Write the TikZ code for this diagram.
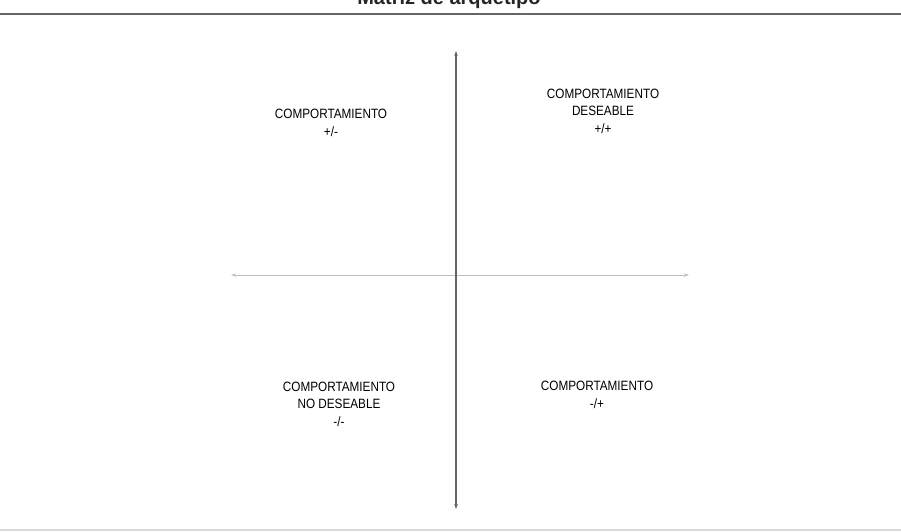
\documentclass[tikz,border=0pt]{standalone}
\usepackage{fontspec}
\setmainfont[FakeStretch=0.87]{Liberation Sans}
\newfontfamily\titulofont{Liberation Sans}
\usepackage{tikz}
\usetikzlibrary{positioning,arrows.meta}

\begin{document}
\begin{tikzpicture}[x=1pt, y=-1pt, >={Stealth[length=5pt,width=3.5pt]}]
  \tikzset{
    cuad/.style={align=center,inner sep=0pt,text=black,
                 font=\fontsize{13.5}{17.5}\selectfont},
    ejev/.style={<->,line width=1.1pt,draw=black!60},
    ejeh/.style={<->,line width=1pt,draw=black!25},
    regla/.style={line width=1.6pt,draw=black!60}
  }
  \useasboundingbox (0,0) rectangle (901,531);

  % Title (cut by the page edge) and rules
  \node[font=\titulofont\bfseries\fontsize{20}{20}\selectfont,text=black!85,
        anchor=base] (titulo) at (449,4) {Matriz de arquetipo};
  \draw[regla] (0,14) -- (901,14);
  \draw[line width=1.2pt,draw=black!15] (0,530) -- (901,530);

  % Axes
  \coordinate (arriba) at (456,51);
  \coordinate (abajo)  at (456,509);
  \coordinate (izq)    at (231,275);
  \coordinate (der)    at (689,275);
  \draw[ejeh] (izq) -- (der);
  \draw[ejev] (arriba) -- (abajo);

  % Quadrants
  \node[cuad] (c1) at (331,123) {COMPORTAMIENTO\\+/-};
  \node[cuad] (c2) at (603,111) {COMPORTAMIENTO\\DESEABLE\\+/+};
  \node[cuad] (c3) at (339,404) {COMPORTAMIENTO\\NO DESEABLE\\-/-};
  \node[cuad] (c4) at (597,395) {COMPORTAMIENTO\\-/+};
\end{tikzpicture}
\end{document}
